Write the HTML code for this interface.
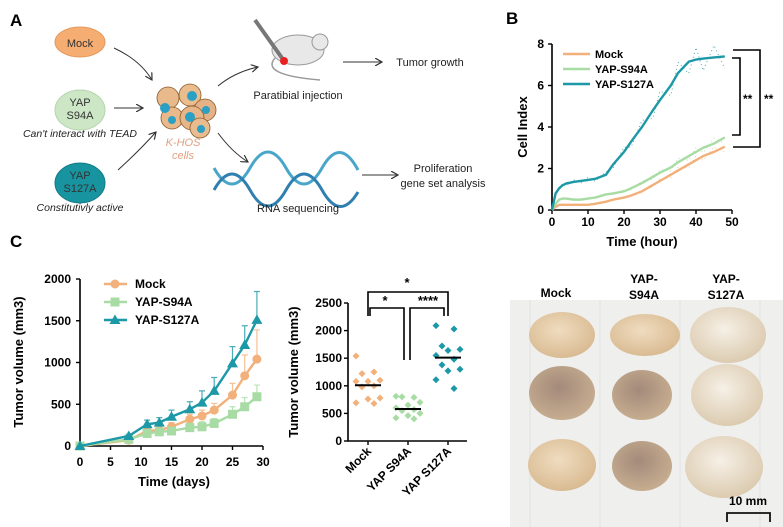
<!DOCTYPE html>
<html><head><meta charset="utf-8"><style>
html,body{margin:0;padding:0;background:#fff;}
svg{display:block;font-family:"Liberation Sans",Arial,sans-serif;}
</style></head><body>
<svg id="fig" width="783" height="527" viewBox="0 0 783 527" xmlns="http://www.w3.org/2000/svg">
<defs>
<marker id="ah" markerWidth="8" markerHeight="8" refX="7" refY="4" orient="auto"><path d="M0,0 L7,4 L0,8" fill="none" stroke="#333" stroke-width="1.2"/></marker>
<radialGradient id="tum1" cx="45%" cy="40%" r="60%"><stop offset="0" stop-color="#f0dcc0"/><stop offset="1" stop-color="#d9bb92"/></radialGradient>
<radialGradient id="tum2" cx="45%" cy="40%" r="60%"><stop offset="0" stop-color="#a48a7a"/><stop offset="1" stop-color="#c6ad90"/></radialGradient>
<radialGradient id="tum3" cx="45%" cy="40%" r="60%"><stop offset="0" stop-color="#f6f0e6"/><stop offset="1" stop-color="#dccbb0"/></radialGradient>
</defs>

<g>
<text x="10" y="26" font-size="17" font-weight="bold">A</text>
<ellipse cx="80" cy="42" rx="25" ry="15" fill="#f6ad72" stroke="#e39a60"/>
<text x="80" y="47" font-size="11" text-anchor="middle" fill="#333">Mock</text>
<ellipse cx="80" cy="110" rx="25" ry="20" fill="#cde6c6" stroke="#b5d5ac"/>
<text x="80" y="106" font-size="11" text-anchor="middle" fill="#333">YAP</text>
<text x="80" y="119" font-size="11" text-anchor="middle" fill="#333">S94A</text>
<text x="80" y="137" font-size="10.5" font-style="italic" text-anchor="middle" fill="#222">Can't interact with TEAD</text>
<ellipse cx="80" cy="183" rx="25" ry="20" fill="#17949f" stroke="#127d87"/>
<text x="80" y="179" font-size="11" text-anchor="middle" fill="#333">YAP</text>
<text x="80" y="192" font-size="11" text-anchor="middle" fill="#333">S127A</text>
<text x="80" y="211" font-size="10.5" font-style="italic" text-anchor="middle" fill="#222">Constitutivly active</text>
<g fill="none" stroke="#333" stroke-width="1" marker-end="url(#ah)">
<path d="M114,48 Q140,60 152,80"/>
<path d="M114,108 L143,108"/>
<path d="M118,170 Q140,150 156,132"/>
<path d="M218,86 Q235,72 258,67"/>
<path d="M218,133 Q232,152 248,162"/>
<path d="M343,62 L382,62"/>
<path d="M362,175 L398,175"/>
</g>
<g stroke="#8a5a2a" stroke-width="0.8">
<circle cx="168" cy="98" r="11" fill="#e8b98a"/><circle cx="190" cy="95" r="11" fill="#e9bd8e"/>
<circle cx="205" cy="110" r="11" fill="#e4b286"/><circle cx="172" cy="118" r="11" fill="#eab98b"/>
<circle cx="192" cy="118" r="12" fill="#e6b588"/><circle cx="200" cy="128" r="10" fill="#e9bc8f"/>
<circle cx="165" cy="108" r="5" fill="#2aa0c4" stroke="none"/><circle cx="192" cy="96" r="5" fill="#2aa0c4" stroke="none"/>
<circle cx="190" cy="117" r="5" fill="#2aa0c4" stroke="none"/><circle cx="206" cy="110" r="4" fill="#2aa0c4" stroke="none"/>
<circle cx="172" cy="120" r="4" fill="#2aa0c4" stroke="none"/><circle cx="201" cy="129" r="4" fill="#2aa0c4" stroke="none"/>
</g>
<text x="183" y="146" font-size="11" font-style="italic" text-anchor="middle" fill="#e0a080">K-HOS</text>
<text x="183" y="159" font-size="11" font-style="italic" text-anchor="middle" fill="#e0a080">cells</text>
<g>
<ellipse cx="298" cy="50" rx="26" ry="15" fill="#e8e8e8" stroke="#999"/>
<circle cx="320" cy="42" r="8" fill="#e8e8e8" stroke="#999"/>
<path d="M275,58 Q260,75 320,80" fill="none" stroke="#999" stroke-width="1.5"/>
<line x1="255" y1="20" x2="282" y2="58" stroke="#777" stroke-width="4"/>
<circle cx="284" cy="61" r="4" fill="#e82020"/>
</g>
<text x="298" y="99" font-size="11" text-anchor="middle" fill="#222">Paratibial injection</text>
<text x="430" y="66" font-size="11" text-anchor="middle" fill="#222">Tumor growth</text>
<g fill="none" stroke-width="3">
<path d="M214,168 Q232,200 250,168 T286,168 T322,168 T358,170" stroke="#4aa6c8"/>
<path d="M214,190 Q232,158 250,190 T286,190 T322,190 T358,192" stroke="#2f7fb0"/>
</g>
<text x="298" y="212" font-size="11" text-anchor="middle" fill="#222">RNA sequencing</text>
<text x="443" y="172" font-size="11" text-anchor="middle" fill="#222">Proliferation</text>
<text x="443" y="187" font-size="11" text-anchor="middle" fill="#222">gene set analysis</text>
</g>

<text x="506" y="24" font-size="17" font-weight="bold">B</text>
<text x="10" y="247" font-size="17" font-weight="bold">C</text>

<g id="chartB"></g>
<g id="chartC"></g>
<g id="chartD"></g>

<g>
<rect x="510" y="300" width="273" height="227" fill="#efefee"/>
<g stroke="#e0e0e0" stroke-width="1">
<line x1="530" y1="300" x2="530" y2="527"/><line x1="600" y1="300" x2="600" y2="527"/><line x1="680" y1="300" x2="680" y2="527"/><line x1="760" y1="300" x2="760" y2="527"/>
</g>
<text x="556" y="297" font-size="12" font-weight="bold" text-anchor="middle">Mock</text>
<text x="644" y="283" font-size="12" font-weight="bold" text-anchor="middle">YAP-</text>
<text x="644" y="299" font-size="12" font-weight="bold" text-anchor="middle">S94A</text>
<text x="726" y="283" font-size="12" font-weight="bold" text-anchor="middle">YAP-</text>
<text x="726" y="299" font-size="12" font-weight="bold" text-anchor="middle">S127A</text>
<ellipse cx="562" cy="335" rx="33" ry="23" fill="url(#tum1)"/>
<ellipse cx="562" cy="393" rx="33" ry="27" fill="url(#tum2)"/>
<ellipse cx="562" cy="465" rx="34" ry="26" fill="url(#tum1)"/>
<ellipse cx="645" cy="335" rx="35" ry="21" fill="url(#tum1)"/>
<ellipse cx="642" cy="395" rx="30" ry="25" fill="url(#tum2)"/>
<ellipse cx="642" cy="466" rx="30" ry="25" fill="url(#tum2)"/>
<ellipse cx="728" cy="335" rx="38" ry="28" fill="url(#tum3)"/>
<ellipse cx="727" cy="395" rx="36" ry="31" fill="url(#tum3)"/>
<ellipse cx="724" cy="467" rx="39" ry="31" fill="url(#tum3)"/>
<text x="748" y="505" font-size="12" font-weight="bold" text-anchor="middle">10 mm</text>
<path d="M727,522 L727,513 L770,513 L770,522" fill="none" stroke="#111" stroke-width="1.8"/>
</g>
</svg>
<script>
const bHours = [0,1,2,3,4,6,8,10,12,15,17,20,22,25,28,30,33,35,38,40,42,45,48];
const bMock  = [0,0.15,0.25,0.25,0.25,0.25,0.25,0.25,0.3,0.4,0.5,0.6,0.7,0.9,1.2,1.4,1.7,1.9,2.2,2.4,2.6,2.8,3.05];
const bS94A  = [0,0.3,0.5,0.55,0.55,0.5,0.5,0.55,0.6,0.75,0.8,0.9,1.05,1.3,1.6,1.8,2.05,2.3,2.6,2.8,3.0,3.2,3.5];
const bS127A = [0,0.8,1.05,1.2,1.28,1.35,1.4,1.45,1.5,1.7,2.2,2.8,3.3,4.0,4.8,5.3,6.0,6.6,7.15,7.25,7.3,7.35,7.4];
const bXTicks = [0,10,20,30,40,50];
const bYTicks = [0,2,4,6,8];
const cDays = [0,8,11,13,15,18,20,22,25,27,29];
const cMock = [0,70,180,190,230,320,360,430,610,840,1040];
const cMockErr = [0,20,40,40,50,60,70,80,140,250,350];
const cS94A = [0,80,150,170,180,220,230,270,380,470,590];
const cS94AErr = [0,20,30,30,40,50,60,60,90,110,140];
const cS127A = [0,120,260,280,350,440,520,660,990,1210,1510];
const cS127AErr = [0,20,50,60,80,90,140,160,200,230,340];
const cXTicks = [0,5,10,15,20,25,30];
const cYTicks = [0,500,1000,1500,2000];
const dGroups = ['Mock','YAP S94A','YAP S127A'];
const dMock = [1540,1250,1220,1100,1080,1080,1000,980,780,760,690,680];
const dS94A = [810,790,800,700,650,600,570,550,500,460,420,400];
const dS127A = [2090,2030,1720,1660,1640,1550,1480,1380,1300,1270,1110,950];
const dMedians = [1010,580,1510];
const dYTicks = [0,500,1000,1500,2000,2500];

const NS='http://www.w3.org/2000/svg';
function mk(p,tag,attrs,txt){const e=document.createElementNS(NS,tag);for(const k in attrs)e.setAttribute(k,attrs[k]);if(txt!==undefined)e.textContent=txt;p.appendChild(e);return e;}
const COL={mock:'#f2b07a',s94:'#a8dca4',s127:'#1d98a6'};

(function(){
const g=document.getElementById('chartB');
const x=v=>552+v*(732-552)/50, y=v=>210-v*(210-44)/8;
const ax=mk(g,'path',{d:`M${x(0)},${y(8)} L${x(0)},${y(0)} L${x(50)},${y(0)}`,fill:'none',stroke:'#000','stroke-width':1.6});


bXTicks.forEach(t=>{mk(g,'line',{x1:x(t),x2:x(t),y1:y(0),y2:y(0)+4,stroke:'#000','stroke-width':1.4});
 const l=mk(g,'text',{x:x(t),y:226,'font-size':12,'font-weight':'bold','text-anchor':'middle'},t);
 
 });
bYTicks.forEach(t=>{mk(g,'line',{x1:x(0)-4,x2:x(0),y1:y(t),y2:y(t),stroke:'#000','stroke-width':1.4});
 const l=mk(g,'text',{x:544,y:y(t)+4,'font-size':12,'font-weight':'bold','text-anchor':'end'},t);
 
 });
const xt=mk(g,'text',{x:642,y:246,'font-size':13,'font-weight':'bold','text-anchor':'middle'},'Time (hour)');


const yt=mk(g,'text',{x:0,y:0,'font-size':13,'font-weight':'bold','text-anchor':'middle',transform:'translate(527,127) rotate(-90)'},'Cell Index');


[[bMock,COL.mock,'mock'],[bS94A,COL.s94,'s94a'],[bS127A,COL.s127,'s127a']].forEach(([d,c,n])=>{
 const pts=bHours.map((h,i)=>x(h)+','+y(d[i]));
 const dot=mk(g,'polyline',{points:bHours.map((h,i)=>x(h)+','+y(d[i]*(1+0.08*(i%2?1:-1)))).join(' '),fill:'none',stroke:c,'stroke-width':1,'stroke-dasharray':'1 3',opacity:0.8});
 
 
 const l=mk(g,'polyline',{points:pts.join(' '),fill:'none',stroke:c,'stroke-width':2.4});
 
 
});
[['Mock',COL.mock],['YAP-S94A',COL.s94],['YAP-S127A',COL.s127]].forEach(([t,c],i)=>{
 const yy=54+i*15;
 const s=mk(g,'line',{x1:563,x2:590,y1:yy,y2:yy,stroke:c,'stroke-width':2.5});
 
 
 const l=mk(g,'text',{x:595,y:yy+4,'font-size':11,'font-weight':'bold'},t);
 
 
});
const br1=mk(g,'path',{d:'M733,50 L760,50 L760,147 L733,147',fill:'none',stroke:'#000','stroke-width':1.6});


const br2=mk(g,'path',{d:'M732,58 L740,58 L740,135 L732,135',fill:'none',stroke:'#000','stroke-width':1.6});


mk(g,'text',{x:743,y:103,'font-size':12,'font-weight':'bold'},'**');
mk(g,'text',{x:764,y:103,'font-size':12,'font-weight':'bold'},'**');
})();

(function(){
const g=document.getElementById('chartC');
const x=v=>80+v*(263-80)/30, y=v=>446-v*(446-279)/2000;
const ax=mk(g,'path',{d:`M${x(0)},${y(2000)} L${x(0)},${y(0)} L${x(30)},${y(0)}`,fill:'none',stroke:'#000','stroke-width':1.6});


cXTicks.forEach(t=>{mk(g,'line',{x1:x(t),x2:x(t),y1:y(0),y2:y(0)+4,stroke:'#000','stroke-width':1.4});
 const l=mk(g,'text',{x:x(t),y:466,'font-size':12,'font-weight':'bold','text-anchor':'middle'},t);
 
 });
cYTicks.forEach(t=>{mk(g,'line',{x1:x(0)-4,x2:x(0),y1:y(t),y2:y(t),stroke:'#000','stroke-width':1.4});
 const l=mk(g,'text',{x:71,y:y(t)+4,'font-size':12,'font-weight':'bold','text-anchor':'end'},t);
 
 });
const xt=mk(g,'text',{x:174,y:486,'font-size':13,'font-weight':'bold','text-anchor':'middle'},'Time (days)');


const yt=mk(g,'text',{x:0,y:0,'font-size':13,'font-weight':'bold','text-anchor':'middle',transform:'translate(23,362) rotate(-90)'},'Tumor volume (mm3)');


const marker=(p,cx,cy,c,kind)=>{
 if(kind==='circle') return mk(p,'circle',{cx,cy,r:4.5,fill:c});
 if(kind==='square') return mk(p,'rect',{x:cx-4.5,y:cy-4.5,width:9,height:9,fill:c});
 return mk(p,'path',{d:`M${cx},${cy-5.5} L${cx+5.5},${cy+4} L${cx-5.5},${cy+4} Z`,fill:c});
};
[[cMock,cMockErr,COL.mock,'circle','mock'],[cS94A,cS94AErr,COL.s94,'square','s94a'],[cS127A,cS127AErr,COL.s127,'tri','s127a']].forEach(([d,e,c,k,n])=>{
 cDays.forEach((dd,i)=>{ if(e[i]>0){const eb=mk(g,'path',{d:`M${x(dd)},${y(d[i])} L${x(dd)},${y(d[i]+e[i])} M${x(dd)-3},${y(d[i]+e[i])} L${x(dd)+3},${y(d[i]+e[i])}`,stroke:c,'stroke-width':1.2,fill:'none',opacity:0.8});
  
  }});
 const l=mk(g,'polyline',{points:cDays.map((dd,i)=>x(dd)+','+y(d[i])).join(' '),fill:'none',stroke:c,'stroke-width':2.4});
 
 
 cDays.forEach((dd,i)=>{const m=marker(g,x(dd),y(d[i]),c,k);
  
  });
});
[['Mock',COL.mock,'circle'],['YAP-S94A',COL.s94,'square'],['YAP-S127A',COL.s127,'tri']].forEach(([t,c,k],i)=>{
 const yy=284+i*18;
 const s=mk(g,'line',{x1:104,x2:127,y1:yy,y2:yy,stroke:c,'stroke-width':2.4});
 
 
 marker(g,115,yy,c,k);
 const l=mk(g,'text',{x:135,y:yy+4,'font-size':12,'font-weight':'bold'},t);
 
 
});
})();

(function(){
const g=document.getElementById('chartD');
const cx=[368,408,448];
const AX=348;
const y=v=>441-v*(441-303)/2500;
const ax=mk(g,'path',{d:`M${AX},${y(2500)} L${AX},${y(0)} L467,${y(0)}`,fill:'none',stroke:'#000','stroke-width':1.6});


dYTicks.forEach(t=>{mk(g,'line',{x1:AX-4,x2:AX,y1:y(t),y2:y(t),stroke:'#000','stroke-width':1.4});
 const l=mk(g,'text',{x:AX-6,y:y(t)+4,'font-size':12,'font-weight':'bold','text-anchor':'end'},t);
 
 });
const yt=mk(g,'text',{x:0,y:0,'font-size':13,'font-weight':'bold','text-anchor':'middle',transform:'translate(298,372) rotate(-90)'},'Tumor volume (mm3)');


dGroups.forEach((t,i)=>{mk(g,'line',{x1:cx[i],x2:cx[i],y1:441,y2:445,stroke:'#000','stroke-width':1.4});
 const l=mk(g,'text',{x:0,y:0,'font-size':12,'font-weight':'bold','text-anchor':'end',transform:`translate(${cx[i]+4},${452}) rotate(-45)`},t);
 
 });
const cols=[COL.mock,COL.s94,COL.s127];
const offs=[-12,-6,0,6,12];
[dMock,dS94A,dS127A].forEach((arr,gi)=>{
 arr.forEach((v,i)=>{const px=cx[gi]+offs[(i*3)%5];const py=y(v);
  const p=mk(g,'path',{d:`M${px},${py-3.5} L${px+3.5},${py} L${px},${py+3.5} L${px-3.5},${py} Z`,fill:cols[gi]});
  
  });
 const m=mk(g,'line',{x1:cx[gi]-13,x2:cx[gi]+13,y1:y(dMedians[gi]),y2:y(dMedians[gi]),stroke:'#000','stroke-width':2});
 
 
});
const b1=mk(g,'path',{d:`M${cx[0]},316 L${cx[0]},292 L${cx[2]},292 L${cx[2]},316`,fill:'none',stroke:'#000','stroke-width':1.6});


const b2=mk(g,'path',{d:`M${cx[0]+2},316 L${cx[0]+2},308 L${cx[1]-4},308 L${cx[1]-4},360`,fill:'none',stroke:'#000','stroke-width':1.6});


const b3=mk(g,'path',{d:`M${cx[1]+2},360 L${cx[1]+2},308 L${cx[2]-4},308 L${cx[2]-4},316`,fill:'none',stroke:'#000','stroke-width':1.6});


mk(g,'text',{x:407,y:287,'font-size':13,'font-weight':'bold','text-anchor':'middle'},'*');
mk(g,'text',{x:385,y:305,'font-size':13,'font-weight':'bold','text-anchor':'middle'},'*');
mk(g,'text',{x:428,y:305,'font-size':13,'font-weight':'bold','text-anchor':'middle'},'****');
})();
</script>
</body></html>
